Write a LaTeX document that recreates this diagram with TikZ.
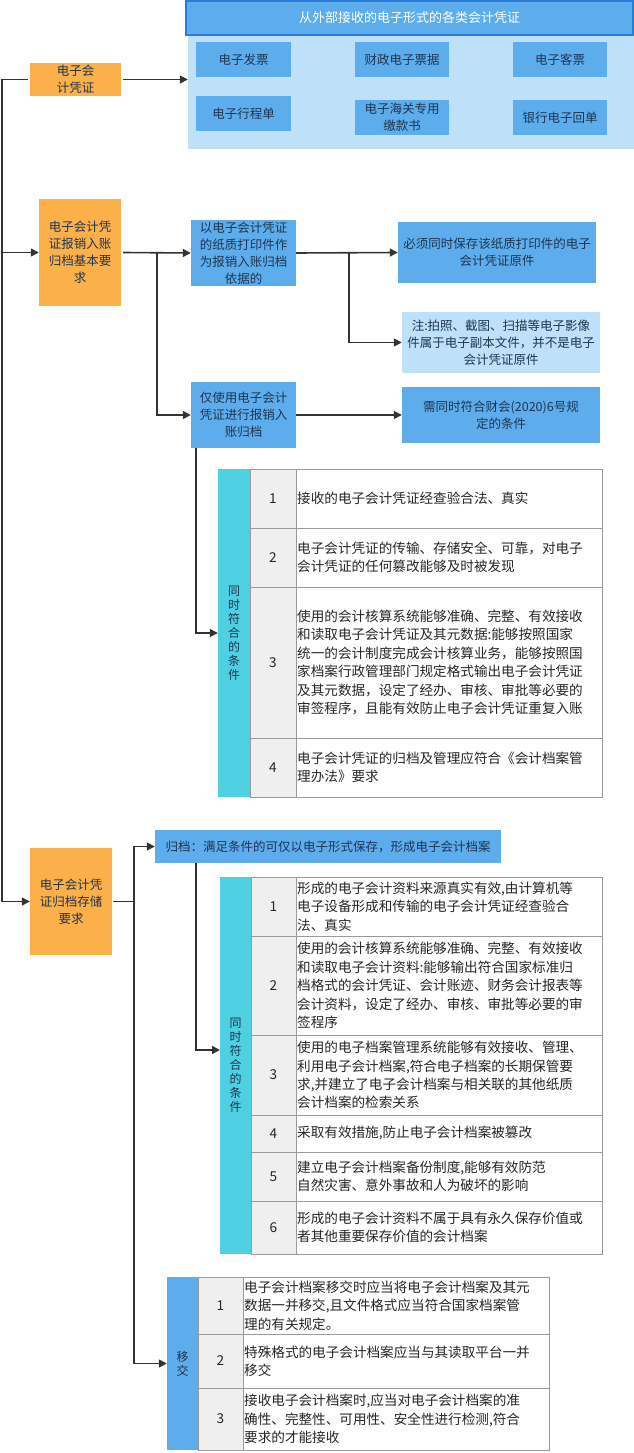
\documentclass[tikz,border=0pt]{standalone}
\usepackage{fontspec}
\setmainfont{Noto Sans CJK SC}
\usetikzlibrary{arrows.meta}
\definecolor{org}{HTML}{FBB04A}
\definecolor{blu}{HTML}{5DADEC}
\definecolor{hdr}{HTML}{2B7BD8}
\definecolor{lbl}{HTML}{BEE0F8}
\definecolor{cya}{HTML}{4FD0E2}
\definecolor{gcol}{HTML}{EFEFEF}
\definecolor{gbd}{HTML}{9A9A9A}
\definecolor{btx}{HTML}{1F3550}
\definecolor{ln}{HTML}{333333}
\newcommand\bx[7]{\node[#6, minimum width={(#4-#2)*1pt}, minimum height={(#5-#3)*1pt}] (#1) at ({(#2+#4)/2},{(#3+#5)/2}) {#7};}
\newcommand\trow[7]{% x1 numx2 textx2 y1 y2 num text
  \draw[gbd, fill=gcol, line width=1pt] (#1,#4) rectangle (#2,#5);
  \draw[gbd, fill=white, line width=1pt] (#2,#4) rectangle (#3,#5);
  \node[tabtxt] at ({(#1+#2)/2},{(#4+#5)/2}) {#6};
  \node[tabtxt, anchor=west, align=left] at (#2,{(#4+#5)/2}) {#7};}
\begin{document}
\begin{tikzpicture}[x=1pt,y=-1pt,
  ob/.style={fill=org, inner sep=0pt, align=center, text=btx, font=\fontsize{12.5}{17}\selectfont},
  bb/.style={fill=blu, inner sep=0pt, align=center, text=btx, font=\fontsize{12.5}{17}\selectfont},
  lb/.style={fill=lbl, inner sep=0pt, align=center, text=btx, font=\fontsize{12.5}{17}\selectfont},
  side/.style={inner sep=0pt, align=center, text=btx, font=\fontsize{12}{14}\selectfont},
  tabtxt/.style={inner sep=1pt, text=black!85, font=\fontsize{13.6}{18.4}\selectfont},
  conn/.style={ln, line width=1.6pt},
  arr/.style={conn, -{Triangle[length=8pt,width=8pt]}}]
\useasboundingbox (0,0) rectangle (634,1453);
% top panel
\bx{panel}{188}{35}{634}{149}{lb}{}
\bx{head}{186}{1}{633}{35}{fill=blu, draw=hdr, line width=1.5pt, text=white, font=\fontsize{13}{16}\selectfont}{从外部接收的电子形式的各类会计凭证}
\bx{e1}{196}{42}{291}{77}{bb}{电子发票}
\bx{e2}{355}{42}{449}{77}{bb}{财政电子票据}
\bx{e3}{513}{42}{607}{77}{bb}{电子客票}
\bx{e4}{196}{96}{291}{131}{bb}{电子行程单}
\bx{e5}{355}{100}{449}{135}{bb}{电子海关专用\\缴款书}
\bx{e6}{513}{100}{607}{135}{bb}{银行电子回单}
% orange
\bx{o1}{30}{63}{121}{96}{ob}{电子会\\计凭证}
\bx{o2}{39}{199}{121}{306}{ob}{电子会计凭\\证报销入账\\归档基本要\\求}
\bx{o3}{30}{848}{112}{955}{ob}{电子会计凭\\证归档存储\\要求}
% blue boxes
\bx{A}{191}{220}{296}{286}{bb}{以电子会计凭证\\的纸质打印件作\\为报销入账归档\\依据的}
\bx{B}{191}{382}{296}{448}{bb}{仅使用电子会计\\凭证进行报销入\\账归档}
\bx{C}{398}{222}{596}{283}{bb}{必须同时保存该纸质打印件的电子\\会计凭证原件}
\bx{D}{402}{312}{600}{373}{lb}{注:拍照、截图、扫描等电子影像\\件属于电子副本文件，并不是电子\\会计凭证原件}
\bx{E}{402}{387}{600}{443}{bb}{需同时符合财会(2020)6号规\\定的条件}
\bx{F}{155}{830}{501}{863}{bb}{归档：满足条件的可仅以电子形式保存，形成电子会计档案}
% table 1
\bx{t1}{218}{469}{250}{797}{fill=cya}{}
\node[side] at (t1) {同\\时\\符\\合\\的\\条\\件};
\trow{250}{296}{602}{469}{528}{1}{接收的电子会计凭证经查验合法、真实}
\trow{250}{296}{602}{528}{587}{2}{电子会计凭证的传输、存储安全、可靠，对电子\\会计凭证的任何篡改能够及时被发现}
\trow{250}{296}{602}{587}{738}{3}{使用的会计核算系统能够准确、完整、有效接收\\和读取电子会计凭证及其元数据:能够按照国家\\统一的会计制度完成会计核算业务，能够按照国\\家档案行政管理部门规定格式输出电子会计凭证\\及其元数据，设定了经办、审核、审批等必要的\\审签程序，且能有效防止电子会计凭证重复入账}
\trow{250}{296}{602}{738}{797}{4}{电子会计凭证的归档及管理应符合《会计档案管\\理办法》要求}
% table 2
\bx{t2}{220}{877}{251}{1254}{fill=cya}{}
\node[side] at (t2) {同\\时\\符\\合\\的\\条\\件};
\trow{251}{296}{602}{877}{936}{1}{形成的电子会计资料来源真实有效,由计算机等\\电子设备形成和传输的电子会计凭证经查验合\\法、真实}
\trow{251}{296}{602}{936}{1035}{2}{使用的会计核算系统能够准确、完整、有效接收\\和读取电子会计资料:能够输出符合国家标准归\\档格式的会计凭证、会计账迹、财务会计报表等\\会计资料，设定了经办、审核、审批等必要的审\\签程序}
\trow{251}{296}{602}{1035}{1115}{3}{使用的电子档案管理系统能够有效接收、管理、\\利用电子会计档案,符合电子档案的长期保管要\\求,并建立了电子会计档案与相关联的其他纸质\\会计档案的检索关系}
\trow{251}{296}{602}{1115}{1152}{4}{采取有效措施,防止电子会计档案被篡改}
\trow{251}{296}{602}{1152}{1201}{5}{建立电子会计档案备份制度,能够有效防范\\自然灾害、意外事故和人为破坏的影响}
\trow{251}{296}{602}{1201}{1254}{6}{形成的电子会计资料不属于具有永久保存价值或\\者其他重要保存价值的会计档案}
% table 3
\bx{t3}{167}{1277}{198}{1450}{fill=blu}{}
\node[side] at (t3) {移\\交};
\trow{198}{243}{549}{1277}{1334}{1}{电子会计档案移交时应当将电子会计档案及其元\\数据一并移交,且文件格式应当符合国家档案管\\理的有关规定。}
\trow{198}{243}{549}{1334}{1388}{2}{特殊格式的电子会计档案应当与其读取平台一并\\移交}
\trow{198}{243}{549}{1388}{1450}{3}{接收电子会计档案时,应当对电子会计档案的准\\确性、完整性、可用性、安全性进行检测,符合\\要求的才能接收}
% connectors
\coordinate (L1) at (2,79.5);
\coordinate (L3) at (2,901.5);
\draw[conn] (L1) -- (L3);
\draw[conn] (L1) -- (28,79.5);
\draw[arr] (o1.east) ++(2,0) -- (panel.west |- o1.east);
\draw[arr] (L1 |- o2.west) -- (o2.west);
\draw[arr] (L3) -- (o3.west);
\coordinate (j1) at (157,252.5);
\draw[arr] (o2.east) ++(2,0) -- (A.west);
\draw[arr] (j1) |- (B.west);
\coordinate (j2) at (349,252.5);
\draw[arr] (A.east) -- (C.west);
\draw[arr] (j2) |- (D.west);
\draw[arr] (B.east) -- (E.west);
\draw[arr] (196,448) |- (t1.west);
\coordinate (j3) at (134,901.5);
\draw[conn] (o3.east) ++(1,0) -- (j3);
\draw[arr] (j3) |- (F.west);
\draw[arr] (j3) |- (t3.west);
\coordinate (t2in) at (220,1050);
\draw[arr] (196,863) |- (t2in);
\end{tikzpicture}
\end{document}
